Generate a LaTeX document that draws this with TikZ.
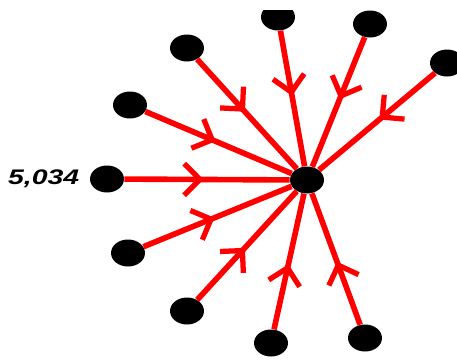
\documentclass[tikz,border=0pt]{standalone}
\usepackage{fontspec}
\newfontfamily\numfont{Liberation Sans}
\usepackage{tikz}
\usetikzlibrary{arrows.meta,positioning,shapes.geometric,decorations.markings}

\begin{document}
\begin{tikzpicture}[
    x=0.02cm, y=-0.02cm,
    node distance=2mm,
    dot/.style={ellipse, fill=black, inner sep=0pt, minimum width=0.68cm, minimum height=0.54cm},
    flowedge/.style={draw=red, line width=3.2pt, postaction={decorate, decoration={markings,
        mark=at position 0.48 with {\arrow[red, line width=3pt]{Straight Barb[length=9pt, width=18pt]}}}}},
    lbl/.style={font=\numfont\bfseries\itshape\large, inner sep=0pt}
]
\useasboundingbox (0,0) rectangle (457,360);
\clip (0,10) rectangle (457,360);

% hub and the ten feeding points
\node[dot] (hub) at (307,180) {};
\node[dot] (ptA) at (278,17) {};
\node[dot] (ptB) at (370,24) {};
\node[dot] (ptC) at (447,63) {};
\node[dot] (ptD) at (187,48) {};
\node[dot] (ptE) at (130,105) {};
\node[dot] (ptF) at (107,179) {};
\node[dot] (ptG) at (128,253) {};
\node[dot] (ptH) at (187,311) {};
\node[dot] (ptI) at (271,343) {};
\node[dot] (ptJ) at (365,338) {};

\node[lbl, left=of ptF] (val) {\scalebox{1.35}[1]{5,034}};

\draw[flowedge] (ptA) -- (hub);
\draw[flowedge] (ptB) -- (hub);
\draw[flowedge] (ptC) -- (hub);
\draw[flowedge] (ptD) -- (hub);
\draw[flowedge] (ptE) -- (hub);
\draw[flowedge] (ptF) -- (hub);
\draw[flowedge] (ptG) -- (hub);
\draw[flowedge] (ptH) -- (hub);
\draw[flowedge] (ptI) -- (hub);
\draw[flowedge] (ptJ) -- (hub);
\end{tikzpicture}
\end{document}
